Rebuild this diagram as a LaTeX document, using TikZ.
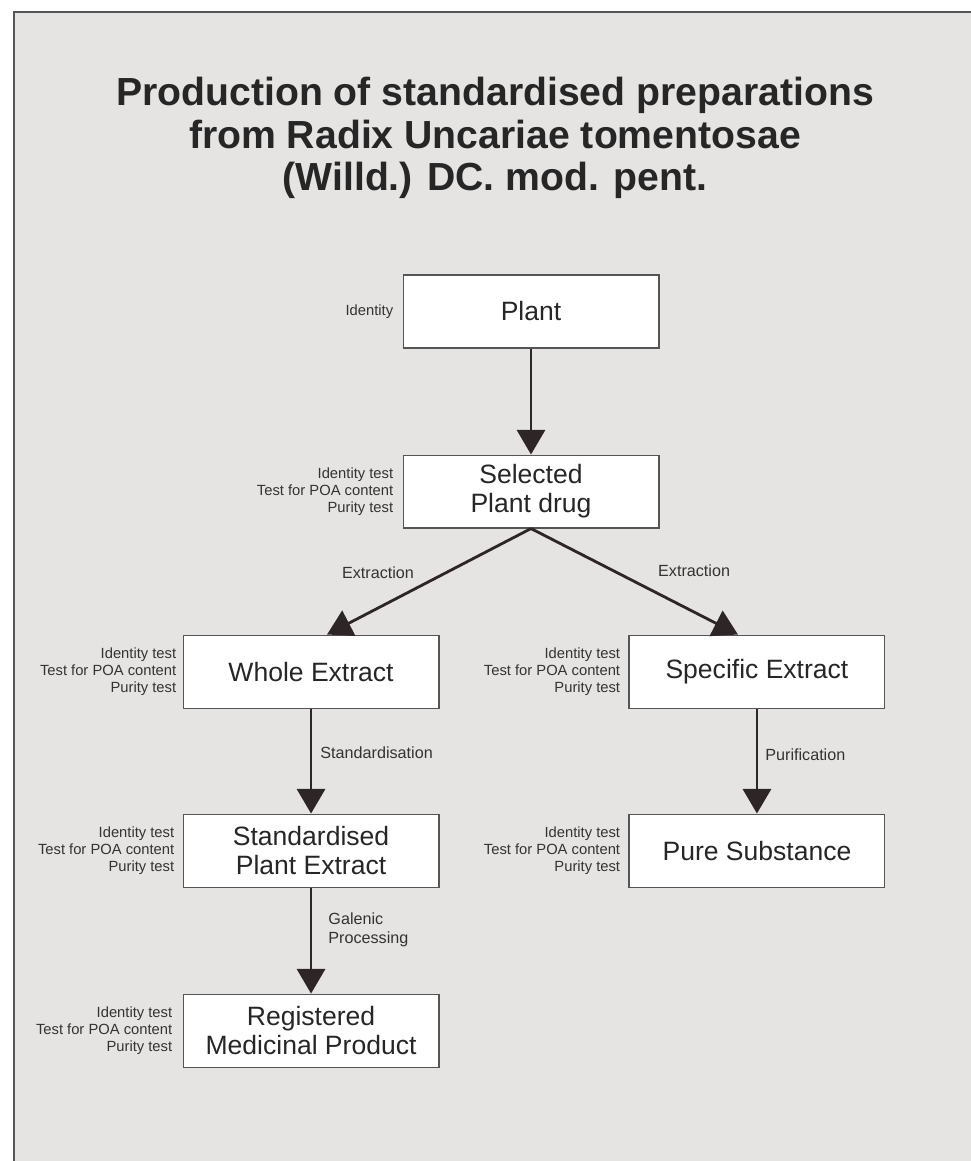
\documentclass[tikz,border=0pt]{standalone}
\usepackage{fontspec}
\setmainfont{Liberation Sans}
\usetikzlibrary{arrows.meta,positioning}
\definecolor{scanbg}{RGB}{230,228,226}
\definecolor{ink}{RGB}{46,38,38}
\definecolor{boxline}{RGB}{85,85,85}

\begin{document}
\begin{tikzpicture}[
  x=0.02cm, y=-0.02cm,
  >={Triangle[length=14pt,width=16pt]},
  stagebox/.style={draw=boxline, line width=0.6pt, fill=white, align=center, minimum width=5.12cm, minimum height=1.46cm, inner sep=0pt, font=\fontsize{15.1}{16.5}\selectfont, text=black!85},
  testlbl/.style={align=right, inner sep=0pt, font=\fontsize{8.4}{9.6}\selectfont, text=black!80},
  steplbl/.style={align=left, inner sep=0pt, font=\fontsize{9.2}{10.6}\selectfont, text=black!80},
  flow/.style={->, draw=ink, line width=1.6pt},
  node distance=2.12cm
]
% page of the scan
\useasboundingbox (0,0) rectangle (971,1161);
\fill[white] (0,0) rectangle (971,1161);
\fill[scanbg] (14,12) rectangle (971,1161);
\draw[boxline, line width=0.8pt] (971,12) -- (14,12) -- (14,1161);

\node[font=\bfseries\fontsize{22.3}{24.2}\selectfont, align=center, text=black!85] (title) at (495,138)
  {Production of standardised preparations\\from Radix Uncariae tomentosae\\(Willd.) DC. mod. pent.};

% stages
\node[stagebox] (plant) at (531,311.5) {Plant};
\node[stagebox, below=of plant] (sel) {Selected\\Plant drug};
\node[stagebox, below=of sel, xshift=-4.4cm] (whole) {Whole Extract};
\node[stagebox, below=of sel, xshift=4.52cm] (spec) {Specific Extract};
\node[stagebox, below=2.1cm of whole] (std) {Standardised\\Plant Extract};
\node[stagebox, below=2.1cm of spec] (pure) {Pure Substance};
\node[stagebox, below=of std] (reg) {Registered\\Medicinal Product};

% tests
\node[testlbl, left=1.8mm of plant] (t-plant) {Identity};
\node[testlbl, left=1.8mm of sel] (t-sel) {Identity test\\Test for POA content\\Purity test};
\node[testlbl, left=1.2mm of whole] (t-whole) {Identity test\\Test for POA content\\Purity test};
\node[testlbl, left=1.6mm of spec] (t-spec) {Identity test\\Test for POA content\\Purity test};
\node[testlbl, left=1.6mm of std] (t-std) {Identity test\\Test for POA content\\Purity test};
\node[testlbl, left=1.6mm of pure] (t-pure) {Identity test\\Test for POA content\\Purity test};
\node[testlbl, left=2mm of reg] (t-reg) {Identity test\\Test for POA content\\Purity test};

% steps
\draw[flow] (plant) -- (sel);
\draw[flow] (sel.south) -- node[steplbl, pos=0.42, left=0.6cm] (l-ex1) {Extraction} ([xshift=0.32cm]whole.north);
\draw[flow] (sel.south) -- node[steplbl, pos=0.4, right=0.86cm] (l-ex2) {Extraction} ([xshift=-0.38cm]spec.north);
\draw[flow] (whole) -- node[steplbl, pos=0.42, right=0.16cm] (l-std) {Standardisation} (std);
\draw[flow] (spec) -- node[steplbl, pos=0.44, right=0.14cm] (l-pur) {Purification} (pure);
\draw[flow] (std) -- node[steplbl, pos=0.4, right=0.32cm] (l-gal) {Galenic\\Processing} (reg);
\end{tikzpicture}
\end{document}
